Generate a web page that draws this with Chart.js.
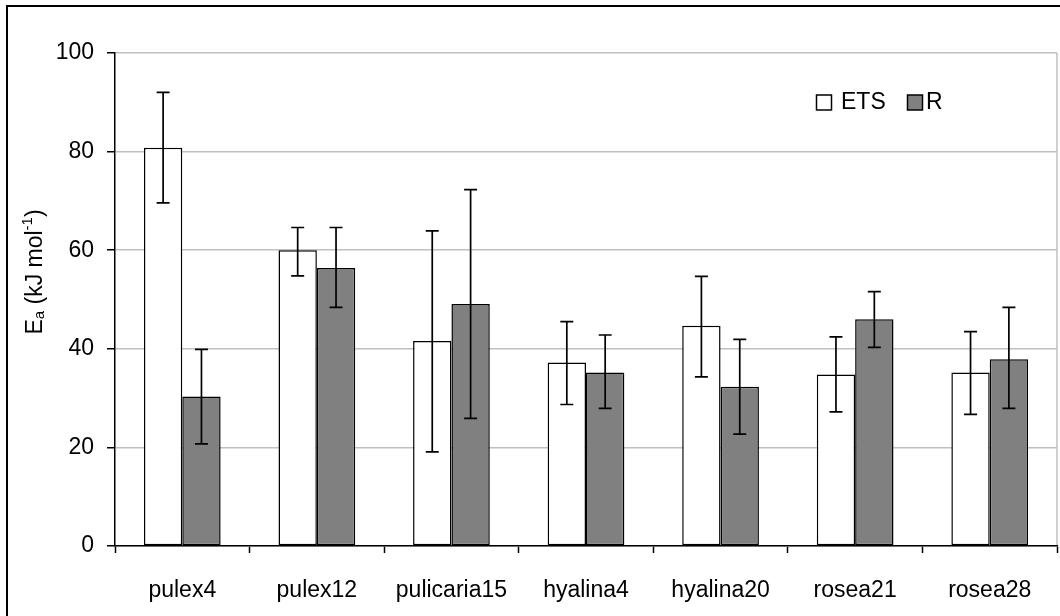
<!DOCTYPE html>
<html>
<head>
<meta charset="utf-8">
<script src="https://cdn.jsdelivr.net/npm/chart.js@4/dist/chart.umd.min.js"></script>
<style>
  html, body { margin: 0; padding: 0; background: #fff; }
  #wrap { width: 1060px; height: 616px; position: relative; }
</style>
</head>
<body>
<div id="wrap"><canvas id="chart" width="1060" height="616"></canvas></div>
<script>
const categories = ["pulex4", "pulex12", "pulicaria15", "hyalina4", "hyalina20", "rosea21", "rosea28"];

// activation energy means with lower / upper ends of the error bars
const etsMean = [80.8, 60.0, 41.6, 37.2, 44.7, 34.8, 35.2];
const etsLow  = [69.6, 54.8, 19.1, 28.7, 34.3, 27.2, 26.7];
const etsHigh = [92.0, 64.6, 63.9, 45.5, 54.7, 42.4, 43.5];

const rMean = [30.3, 56.4, 49.1, 35.2, 32.3, 46.0, 37.9];
const rLow  = [20.7, 48.4, 25.9, 27.9, 22.7, 40.3, 27.9];
const rHigh = [39.9, 64.6, 72.3, 42.8, 41.9, 51.6, 48.4];

const yTicks = [0, 20, 40, 60, 80, 100];

const FONT = "'Liberation Sans', Arial, sans-serif";

// whiskers drawn on top of each bar
const errorBars = {
  id: "errorBars",
  afterDatasetsDraw(chart) {
    const ctx = chart.ctx;
    const y = chart.scales.y;
    ctx.save();
    ctx.strokeStyle = "#000";
    ctx.lineWidth = 1.7;
    chart.data.datasets.forEach((ds, i) => {
      const meta = chart.getDatasetMeta(i);
      meta.data.forEach((bar, j) => {
        const x = bar.x;
        const top = y.getPixelForValue(ds.errHigh[j]);
        const bot = y.getPixelForValue(ds.errLow[j]);
        ctx.beginPath();
        ctx.moveTo(x, top); ctx.lineTo(x, bot);
        ctx.moveTo(x - 6.5, top); ctx.lineTo(x + 6.5, top);
        ctx.moveTo(x - 6.5, bot); ctx.lineTo(x + 6.5, bot);
        ctx.stroke();
      });
    });
    ctx.restore();
  }
};

// frame, right plot edge, axis title and inline legend
const decorations = {
  id: "decorations",
  beforeDraw(chart) {
    const ctx = chart.ctx;
    const a = chart.chartArea;
    ctx.save();
    ctx.fillStyle = "#fff";
    ctx.fillRect(0, 0, chart.width, chart.height);
    ctx.strokeStyle = "#000";
    ctx.lineWidth = 2;
    ctx.strokeRect(7, 6, chart.width + 20, chart.height + 20);
    ctx.strokeStyle = "#c0c0c0";
    ctx.lineWidth = 1.5;
    ctx.beginPath();
    ctx.moveTo(a.right, a.top); ctx.lineTo(a.right, a.bottom);
    ctx.stroke();
    ctx.restore();
  },
  afterDraw(chart) {
    const ctx = chart.ctx;
    ctx.save();

    // y title: E_a (kJ mol^-1), rotated
    ctx.translate(36, 272);
    ctx.rotate(-Math.PI / 2);
    ctx.fillStyle = "#000";
    ctx.textBaseline = "middle";
    const big = "23px " + FONT, small = "15px " + FONT;
    const parts = [
      { t: "E", f: big, dy: 0 },
      { t: "a", f: small, dy: 4 },
      { t: " (kJ mol", f: big, dy: 0 },
      { t: "-1", f: small, dy: -8 },
      { t: ")", f: big, dy: 0 }
    ];
    let w = 0;
    parts.forEach(p => { ctx.font = p.f; w += ctx.measureText(p.t).width; });
    let x = -w / 2;
    parts.forEach(p => {
      ctx.font = p.f;
      ctx.fillText(p.t, x, p.dy);
      x += ctx.measureText(p.t).width;
    });
    ctx.restore();

    // legend
    ctx.save();
    ctx.font = "23px " + FONT;
    ctx.textBaseline = "middle";
    const items = [{ x: 816.5, tx: 841 }, { x: 907.5, tx: 926 }];
    chart.data.datasets.forEach((ds, i) => {
      const bx = items[i].x, by = 95;
      ctx.fillStyle = ds.backgroundColor;
      ctx.fillRect(bx, by, 15, 15);
      ctx.strokeStyle = "#000";
      ctx.lineWidth = 1.5;
      ctx.strokeRect(bx, by, 15, 15);
      ctx.fillStyle = "#000";
      ctx.fillText(ds.label, items[i].tx, by + 8);
    });
    ctx.restore();
  }
};

new Chart(document.getElementById("chart"), {
  type: "bar",
  data: {
    labels: categories,
    datasets: [
      {
        label: "ETS",
        data: etsMean,
        errLow: etsLow,
        errHigh: etsHigh,
        backgroundColor: "#ffffff",
        borderColor: "#000",
        borderWidth: 1.5,
        borderSkipped: false
      },
      {
        label: "R",
        data: rMean,
        errLow: rLow,
        errHigh: rHigh,
        backgroundColor: "#808080",
        borderColor: "#000",
        borderWidth: 1.5,
        borderSkipped: false
      }
    ]
  },
  options: {
    responsive: false,
    animation: false,
    layout: { padding: { top: 53, right: 3, left: 0, bottom: 0 } },
    datasets: { bar: { categoryPercentage: 0.57, barPercentage: 1.0 } },
    plugins: {
      legend: { display: false },
      tooltip: { enabled: false }
    },
    scales: {
      x: {
        offset: true,
        afterFit(scale) { scale.height = 70; },
        grid: {
          offset: true,
          drawOnChartArea: false,
          tickLength: 7,
          tickColor: "#000",
          tickWidth: 1.5
        },
        border: { color: "#000", width: 1.5 },
        ticks: {
          color: "#000",
          padding: 24,
          font: { family: FONT, size: 23 }
        }
      },
      y: {
        min: 0,
        max: 100,
        afterFit(scale) { scale.width = 115; },
        afterBuildTicks(scale) { scale.ticks = yTicks.map(v => ({ value: v })); },
        grid: {
          color: "#c0c0c0",
          lineWidth: 1.5,
          tickLength: 8,
          tickColor: "#000",
          tickWidth: 1.5
        },
        border: { color: "#000", width: 1.5 },
        ticks: {
          color: "#000",
          padding: 13,
          font: { family: FONT, size: 23 }
        }
      }
    }
  },
  plugins: [decorations, errorBars]
});
</script>
</body>
</html>
